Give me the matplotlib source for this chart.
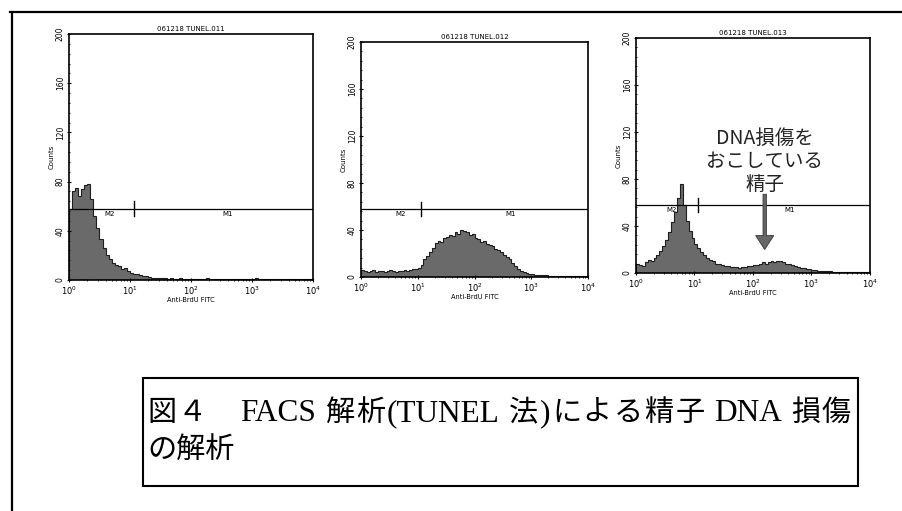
import numpy as np
import matplotlib
matplotlib.use("Agg")
import matplotlib.pyplot as plt
from matplotlib.lines import Line2D
from matplotlib.patches import Rectangle
from matplotlib.ticker import FixedLocator, MultipleLocator, LogLocator, NullFormatter

plt.rcParams['font.family'] = ['DejaVu Sans', 'Noto Sans CJK JP']

# ---------------- data ----------------
titles = ["061218 TUNEL.011", "061218 TUNEL.012", "061218 TUNEL.013"]
x_label = "Anti-BrdU FITC"
y_label = "Counts"
y_ticks = [0, 40, 80, 120, 160, 200]
x_decades = [0, 1, 2, 3, 4]

# counts per channel (80 channels over 10^0..10^4, log spaced)
counts_011 = [58, 72, 75, 68, 74, 77, 78, 66, 52, 42,
              33, 26, 20, 17, 14, 12, 11, 9, 10, 7,
              6, 5, 5, 4, 3, 3, 2.5, 2, 2, 1.5,
              2, 1.5, 1, 1.5, 1, 1, 1.5, 1, 0.8, 1,
              1.2, 1, 0.8, 1, 1, 1.3, 0.8, 1, 1, 0.7,
              1, 1.2, 0.8, 1, 1, 0.8, 1.2, 1, 0.8, 1,
              1, 1.3, 0.8, 1, 0.7, 1, 1, 1.2, 0.8, 1,
              1, 0.8, 1, 1.1, 0.9, 1, 0.8, 1, 1, 0.8]
counts_012 = [6, 5, 4, 5, 6, 4, 5, 5, 4, 5,
              6, 5, 4, 5, 5, 6, 5, 6, 7, 7,
              8, 10, 15, 18, 21, 25, 29, 31, 30, 33,
              34, 36, 35, 38, 37, 40, 39, 38, 36, 37,
              33, 32, 30, 31, 28, 27, 26, 24, 23, 21,
              19, 17, 15, 12, 9, 7, 5, 4, 3, 2.5,
              2.5, 2, 2, 1.5, 1.5, 1.5, 1, 1.2, 1, 1,
              0.8, 1, 0.7, 0.8, 0.6, 0.7, 0.5, 0.6, 0.5, 0.5]
counts_013 = [8, 7, 6, 9, 11, 10, 13, 15, 19, 23,
              28, 35, 43, 52, 64, 76, 58, 44, 36, 30,
              25, 21, 18, 15, 13, 11, 10, 8, 8, 7,
              6, 6, 5, 5, 5, 4, 5, 5, 6, 6,
              7, 7, 8, 9, 8, 9, 10, 9, 10, 10,
              9, 8, 8, 7, 6, 5, 4, 4, 3, 3,
              2.5, 2.5, 2, 2, 1.5, 1.5, 1.5, 1.2, 1, 1.2,
              1, 1, 0.8, 1, 0.8, 0.8, 0.7, 0.8, 0.6, 0.6]
all_counts = [counts_011, counts_012, counts_013]

marker_level = [58, 58, 58]
marker_split_log = [1.07, 1.06, 1.06]
m2_label_log = [0.67, 0.69, 0.60]
m1_label_log = [2.6, 2.63, 2.63]

annotation_text = "DNA損傷を\nおこしている\n精子"
arrow_x_log = 2.2
arrow_from, arrow_to = 67, 20

# caption, split into units (justified like the original document)
caption_units_line1 = ["図", "４", "　", "FACS", " ", "解", "析", "(TUNEL", " ", "法", ")",
                       "に", "よ", "る", "精", "子", " ", "DNA", " ", "損", "傷"]
caption_line2 = "の解析"

# ---------------- figure ----------------
W, H = 903, 511
fig = plt.figure(figsize=(W / 100, H / 100), dpi=100)
renderer = fig.canvas.get_renderer()

def fx(px):
    return px / W

def fy(py):
    return 1 - py / H

# outer frame (left and top edges)
fig.add_artist(Line2D([fx(12), fx(12)], [fy(12), fy(511)], color='black', lw=1.6))
fig.add_artist(Line2D([fx(10), fx(903)], [fy(12), fy(12)], color='black', lw=1.6))

panel_boxes = [(69, 34, 313, 280), (361, 42, 588, 277), (636, 38, 870, 273)]

for i, (l, t, r, b) in enumerate(panel_boxes):
    ax = fig.add_axes([fx(l), fy(b), fx(r) - fx(l), fy(t) - fy(b)])
    counts = np.array(all_counts[i], dtype=float)
    edges = np.logspace(0, 4, len(counts) + 1)
    ax.stairs(counts, edges, fill=True, color='#6a6a6a', baseline=0)
    ax.stairs(counts, edges, color='#1e1e1e', lw=0.8, baseline=0)
    ax.set_xscale('log')
    ax.set_xlim(1, 1e4)
    ax.set_ylim(0, 200)
    for s in ax.spines.values():
        s.set_linewidth(1.2)
    ax.yaxis.set_major_locator(FixedLocator(y_ticks))
    ax.yaxis.set_minor_locator(MultipleLocator(8))
    ax.set_yticklabels([str(v) for v in y_ticks], rotation=90, va='center', fontsize=5.5)
    ax.xaxis.set_major_locator(FixedLocator([10.0 ** d for d in x_decades]))
    ax.set_xticklabels([r'$10^{%d}$' % d for d in x_decades], fontsize=6)
    ax.xaxis.set_minor_locator(LogLocator(base=10, subs=np.arange(2, 10)))
    ax.xaxis.set_minor_formatter(NullFormatter())
    ax.tick_params(axis='both', which='major', length=3, width=0.8, pad=1.5, direction='inout')
    ax.tick_params(axis='both', which='minor', length=1.8, width=0.6, direction='inout')
    ax.set_title(titles[i], fontsize=5, pad=2)
    ax.set_xlabel(x_label, fontsize=4.8, labelpad=0)
    ax.set_ylabel(y_label, fontsize=5, labelpad=1)

    # marker regions M2 / M1
    lvl = marker_level[i]
    ax.plot([1, 1e4], [lvl, lvl], color='black', lw=0.9)
    xs = 10 ** marker_split_log[i]
    ax.plot([xs, xs], [lvl - 6, lvl + 6], color='black', lw=1.0)
    ax.text(10 ** m2_label_log[i], lvl - 2, "M2", fontsize=5, ha='center', va='top')
    ax.text(10 ** m1_label_log[i], lvl - 2, "M1", fontsize=5, ha='center', va='top')

    if i == 2:
        ax.text(10 ** arrow_x_log, 95, annotation_text, fontsize=14, ha='center',
                va='center', multialignment='center', linespacing=1.12,
                color='#222222', family=['Noto Sans CJK JP', 'DejaVu Sans'])
        ax.annotate('', xy=(10 ** arrow_x_log, arrow_to), xytext=(10 ** arrow_x_log, arrow_from),
                    arrowprops=dict(facecolor='#666666', edgecolor='#333333', width=2.4,
                                    headwidth=13, headlength=10, shrink=0, lw=0.6))

# caption box
fig.add_artist(Rectangle((fx(143), fy(486)), fx(858) - fx(143), fy(378) - fy(486),
                         transform=fig.transFigure, fill=False, edgecolor='black', lw=1.5))

cjk_fs = 21
latin_fs = 22.5
latin_fam = ['Liberation Serif', 'Noto Sans CJK JP']
cjk_fam = ['Noto Sans CJK JP', 'Liberation Serif']
em_px = cjk_fs * 100 / 72.0

def is_latin(s):
    return all(ord(c) < 128 for c in s)

def unit_width(s):
    if s == " ":
        return 0.2 * em_px
    if s == "　":
        return 1.0 * em_px
    lat = is_latin(s)
    t = fig.text(0, 0, s, fontsize=latin_fs if lat else cjk_fs,
                 family=latin_fam if lat else cjk_fam)
    w = t.get_window_extent(renderer).width
    t.remove()
    if not lat:
        w = max(w, em_px)
    return w

widths = [unit_width(u) for u in caption_units_line1]
x_start, x_end = 147, 851
gap = (x_end - x_start - sum(widths)) / (len(widths) - 1)
x = x_start
base1 = 421
for u, w in zip(caption_units_line1, widths):
    if u.strip() and u != "　":
        lat = is_latin(u)
        fig.text(fx(x), fy(base1), u, fontsize=latin_fs if lat else cjk_fs,
                 va='baseline', ha='left', family=latin_fam if lat else cjk_fam)
    x += w + gap

fig.text(fx(147), fy(458), caption_line2, fontsize=cjk_fs, va='baseline', ha='left', family=cjk_fam)

fig.savefig("out.png", dpi=100)
